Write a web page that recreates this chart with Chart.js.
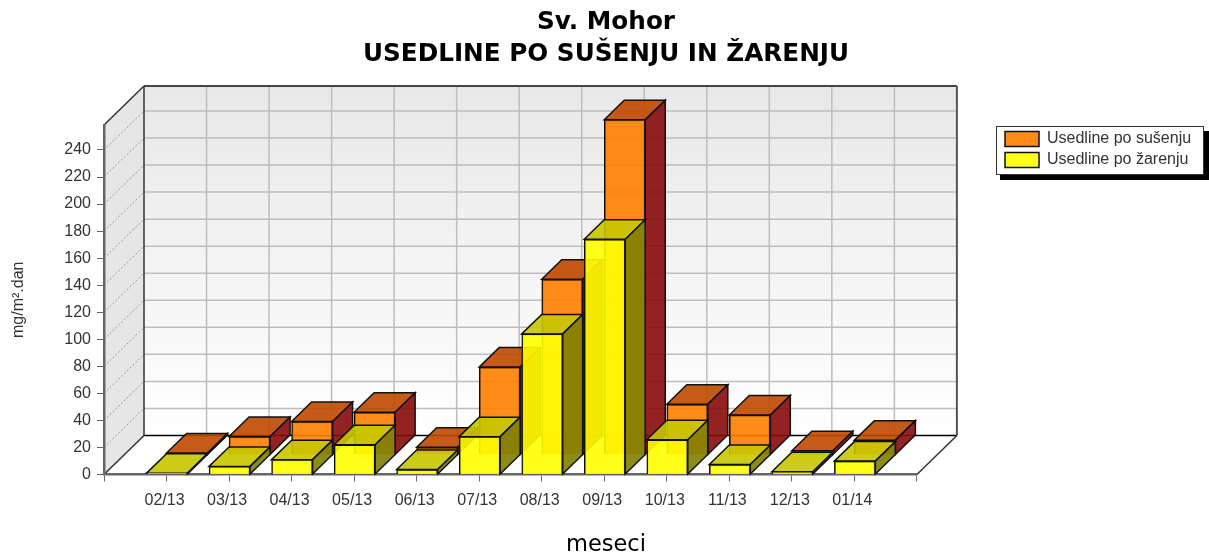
<!DOCTYPE html>
<html>
<head>
<meta charset="utf-8">
<script src="https://cdn.jsdelivr.net/npm/chart.js@4"></script>
<style>
html,body{margin:0;padding:0;background:#fff}
#wrap{width:1209px;height:556px}
</style>
</head>
<body>
<div id="wrap"><canvas id="mychart"></canvas></div>
<script>
var categories = ['02/13','03/13','04/13','05/13','06/13','07/13','08/13','09/13','10/13','11/13','12/13','01/14']
var susenju = [1.5,13.7,24.8,31.6,5.7,65,130,248,37.5,29.6,3.2,11]
var zarenju = [1,6,11,22,3.7,28,104,174,25.7,7.4,2,9.9]
var seriesNames = ['Usedline po sušenju','Usedline po žarenju']
var chartTitle = ['Sv. Mohor','USEDLINE PO SUŠENJU IN ŽARENJU']

// the picture has one empty slot at each end of the category axis
var axisLabels = [''].concat(categories,[''])
function padded(arr){ return [null].concat(arr,[null]) }

var depth = {x:40,y:39}
var faces = [
 {dx:20.5,dy:-19.5,top:'rgba(192,72,0,0.9)',side:'rgba(135,10,10,0.9)'},
 {dx:0.5,dy:0,top:'rgba(200,200,0,0.9)',side:'rgba(128,128,0,0.9)'}
]

function poly(ctx,pts,fill,stroke,lw){
 ctx.beginPath()
 ctx.moveTo(pts[0][0],pts[0][1])
 for(var i=1;i<pts.length;i++) ctx.lineTo(pts[i][0],pts[i][1])
 ctx.closePath()
 if(fill){ ctx.fillStyle=fill; ctx.fill() }
 if(stroke){ ctx.strokeStyle=stroke; ctx.lineWidth=lw||1; ctx.stroke() }
}
function line(ctx,x1,y1,x2,y2,color,lw){
 ctx.beginPath(); ctx.moveTo(x1,y1); ctx.lineTo(x2,y2)
 ctx.strokeStyle=color; ctx.lineWidth=lw; ctx.stroke()
}

var box3d = {
 id:'box3d',
 afterLayout:function(chart){
  // legend and the two centred texts sit apart from the plot
  var lg=chart.legend, w=lg.width, h=lg.height
  lg.left=1000; lg.right=1000+w; lg.top=126; lg.bottom=126+h
  var mid=606
  chart.boxes.forEach(function(t){
   if(t.options&&t.options.text&&t.isHorizontal&&t!==lg){
    var tw=t.right-t.left
    t.left=mid-tw/2; t.right=mid+tw/2
   }
  })
 },
 beforeDraw:function(chart){
  var ctx=chart.ctx, a=chart.chartArea, dx=depth.x, dy=depth.y
  var xs=chart.scales.x, ys=chart.scales.y
  ctx.save()
  // legend frame
  ctx.fillStyle='#000'; ctx.fillRect(1000,131,209,49)
  ctx.fillStyle='#fff'; ctx.fillRect(996.5,126.5,207,48)
  ctx.strokeStyle='#333'; ctx.lineWidth=1; ctx.strokeRect(996.5,126.5,207,48)
  // back wall
  var g=ctx.createLinearGradient(0,a.top-dy,0,a.bottom-dy)
  g.addColorStop(0,'#e8e8e8'); g.addColorStop(1,'#ffffff')
  ctx.fillStyle=g
  ctx.fillRect(a.left+dx,a.top-dy,a.right-a.left,a.bottom-a.top)
  // side wall
  poly(ctx,[[a.left,a.top],[a.left+dx,a.top-dy],[a.left+dx,a.bottom-dy],[a.left,a.bottom]],'#e6e6e6')
  // grid on the walls
  ys.ticks.forEach(function(t){
   var y=ys.getPixelForValue(t.value)
   if(t.value!==0) line(ctx,a.left+dx,y-dy,a.right+dx,y-dy,'#bdbdbd',1.5)
   ctx.setLineDash([2,2])
   line(ctx,a.left,y,a.left+dx,y-dy,'#999',1)
   ctx.setLineDash([])
  })
  axisLabels.forEach(function(l,i){
   if(i===0||i===axisLabels.length-1) return
   var x=xs.getPixelForTick(i)
   line(ctx,x+dx,a.top-dy,x+dx,a.bottom-dy,'#bdbdbd',1.5)
  })
  // floor edges and wall frame
  line(ctx,a.left+dx,a.bottom-dy,a.right+dx,a.bottom-dy,'#000',1.5)
  line(ctx,a.left,a.bottom,a.left+dx,a.bottom-dy,'#333',1.5)
  line(ctx,a.right,a.bottom,a.right+dx,a.bottom-dy,'#333',1.5)
  line(ctx,a.left,a.top,a.left+dx,a.top-dy,'#333',1.5)
  line(ctx,a.left+dx,a.top-dy,a.right+dx,a.top-dy,'#444',2)
  line(ctx,a.left+dx,a.top-dy,a.left+dx,a.bottom-dy,'#333',1.5)
  line(ctx,a.right+dx,a.top-dy,a.right+dx,a.bottom-dy,'#555',2)
  ctx.restore()
 },
 beforeDatasetDraw:function(chart,args){
  var ctx=chart.ctx, f=faces[args.index]
  var values=chart.data.datasets[args.index].data
  ctx.save()
  ctx.translate(f.dx,f.dy)
  chart.getDatasetMeta(args.index).data.forEach(function(b,i){
   if(values[i]===null) return
   var l=b.x-b.width/2, r=b.x+b.width/2
   var ox=20, oy=19.5
   poly(ctx,[[l,b.y],[l+ox,b.y-oy],[r+ox,b.y-oy],[r,b.y]],f.top,'#111',1.5)
   poly(ctx,[[r,b.y],[r+ox,b.y-oy],[r+ox,b.base-oy],[r,b.base]],f.side,'#111',1.5)
  })
 },
 afterDatasetDraw:function(chart){
  chart.ctx.restore()
 }
}

var chart = new Chart(document.getElementById('mychart').getContext('2d'),{
 type:'bar',
 plugins:[box3d],
 data:{
  labels:axisLabels,
  datasets:[
   {label:seriesNames[0],data:padded(susenju),backgroundColor:'rgba(255,128,0,0.9)',borderColor:'#111',borderWidth:1.5,order:2,clip:false,grouped:false,barThickness:41},
   {label:seriesNames[1],data:padded(zarenju),backgroundColor:'rgba(255,255,0,0.9)',borderColor:'#111',borderWidth:1.5,order:1,clip:false,grouped:false,barThickness:41}
  ]
 },
 options:{
  responsive:true,
  maintainAspectRatio:false,
  animation:false,
  layout:{padding:{left:5,right:91,top:0,bottom:0}},
  plugins:{
   title:{display:true,text:chartTitle,color:'#000',font:{family:'"DejaVu Sans"',size:24.7,weight:'bold',lineHeight:1.295},padding:{top:6.5,bottom:54.5}},
   subtitle:{display:true,text:'meseci',position:'bottom',color:'#000',font:{family:'"DejaVu Sans"',size:22.5,weight:'normal',lineHeight:1},padding:{top:10,bottom:0}},
   legend:{position:'right',align:'start',labels:{boxWidth:34,boxHeight:15,padding:5,color:'#333',font:{family:'"Liberation Sans"',size:16},sort:function(a,b){return a.datasetIndex-b.datasetIndex}}},
   tooltip:{enabled:false}
  },
  scales:{
   x:{
    offset:false,
    afterFit:function(s){ s.height=49 },
    grid:{offset:false,drawOnChartArea:false,color:'#666',tickLength:7,tickWidth:1},
    border:{color:'#666',width:2.5},
    ticks:{autoSkip:false,maxRotation:0,padding:9,labelOffset:-2,color:'#333',font:{family:'"Liberation Sans"',size:16}}
   },
   y:{
    min:0,
    max:258.5,
    afterFit:function(s){ s.width=99 },
    grid:{drawOnChartArea:false,color:'#666',tickLength:7,tickWidth:1},
    border:{color:'#666',width:2.5},
    title:{display:true,text:'mg/m².dan',color:'#333',font:{family:'"Liberation Sans"',size:16}},
    ticks:{stepSize:20,includeBounds:false,padding:6,color:'#333',font:{family:'"Liberation Sans"',size:16}}
   }
  }
 }
})
</script>
</body>
</html>
